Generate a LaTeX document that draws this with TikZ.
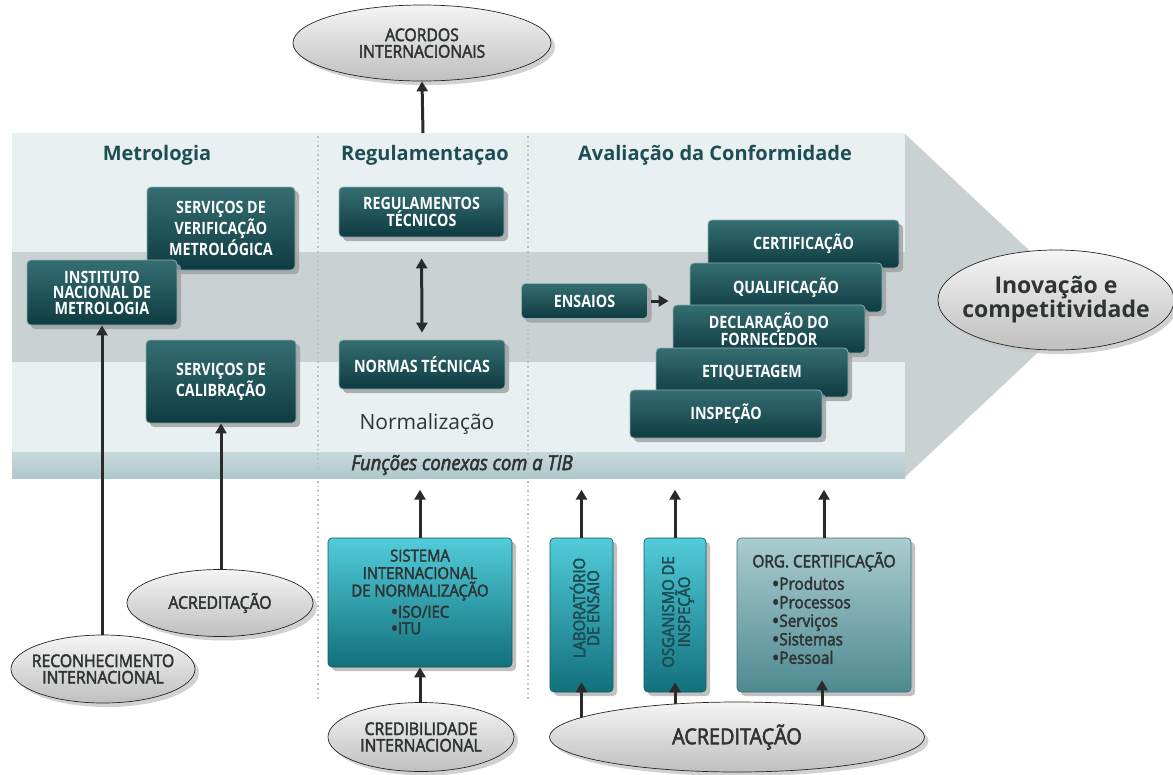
\documentclass[tikz,border=0pt]{standalone}
\usepackage{fontspec}
\setmainfont{Open Sans}
\newfontfamily\cf[FakeStretch=0.84]{Open Sans}
\newfontfamily\ef[FakeBold=2.5,FakeStretch=0.9]{Open Sans}
\usetikzlibrary{shadows,arrows.meta,shapes.geometric,calc}
\newcommand\bul{\smash{\raisebox{-0.1em}{\scalebox{1.3}{•}}}}
\definecolor{hdr}{HTML}{1E4D53}
\definecolor{bandL}{HTML}{E9F0F1}
\definecolor{bandM}{HTML}{C9D1D2}
\definecolor{bandB}{HTML}{AFC8CC}
\definecolor{boxT}{HTML}{356E72}
\definecolor{boxB}{HTML}{0E3B42}
\definecolor{cyT}{HTML}{52CCDA}
\definecolor{cyB}{HTML}{12707C}
\definecolor{orgT}{HTML}{AACCD0}
\definecolor{orgB}{HTML}{4E8A91}
\definecolor{txt}{HTML}{2F3333}
\definecolor{vtxt}{HTML}{1C4A52}
\definecolor{arrc}{HTML}{2A2A2A}
\tikzset{
  darkbox/.style={rectangle, rounded corners=4pt, draw=boxT!55!white, line width=0.8pt,
    top color=boxT, bottom color=boxB, text=white,
    font=\cf\bfseries\fontsize{17}{15.5}\selectfont, align=center, inner sep=1pt,
    drop shadow={shadow xshift=4pt, shadow yshift=-4pt, fill=gray!75, opacity=.8}},
  cybox/.style={rectangle, rounded corners=4pt, draw=cyB!80!black, line width=0.6pt,
    top color=cyT, bottom color=cyB,
    drop shadow={shadow xshift=4pt, shadow yshift=-4pt, fill=gray!60, opacity=.8}},
  orgbox/.style={rectangle, rounded corners=4pt, draw=orgB!80!black, line width=0.6pt,
    top color=orgT, bottom color=orgB,
    drop shadow={shadow xshift=4pt, shadow yshift=-4pt, fill=gray!60, opacity=.8}},
  ell/.style={ellipse, draw=gray!30!black, line width=0.7pt, top color=gray!8, bottom color=gray!50,
    text=txt, font=\ef\fontsize{17.5}{16.5}\selectfont, align=center,
    inner xsep=-30pt, inner ysep=-12pt,
    drop shadow={shadow xshift=4pt, shadow yshift=-4pt, fill=gray!45, opacity=.8}},
  hdrtext/.style={font=\bfseries\fontsize{20}{22}\selectfont, text=hdr},
  semi/.style={font=\ef\fontsize{16.5}{17.5}\selectfont, text=txt},
  arr/.style={draw=arrc, line width=3pt, -{Triangle[width=11pt,length=10pt]}},
  darr/.style={draw=arrc, line width=3pt, {Triangle[width=11pt,length=10pt]}-{Triangle[width=11pt,length=10pt]}},
  divider/.style={draw=gray!50, line width=1.6pt, dash pattern=on 1.6pt off 3pt},
}
\begin{document}
\begin{tikzpicture}[x=1pt,y=-1pt]
\useasboundingbox[fill=white] (0,0) rectangle (1173,774);
% big arrow band
\fill[bandM] (904,133) -- (1088,305.5) -- (904,478) -- cycle;
\fill[bandL] (12,133) rectangle (905,252);
\fill[bandM] (12,252) rectangle (905,362);
\fill[bandL] (12,362) rectangle (905,452);
\shade[top color=bandB!70!white, bottom color=bandB] (12,452) rectangle (905,478);
% dividers
\draw[divider] (318,136) -- (318,700);
\draw[divider] (528,136) -- (528,700);
% headers and texts
\node[hdrtext] (hM) at (157,155) {Metrologia};
\node[hdrtext] (hR) at (425,155) {Regulamentaçao};
\node[hdrtext] (hA) at (715,155) {Avaliação da Conformidade};
\node[font=\fontsize{21}{22}\selectfont, text=txt] (norm) at (427,424) {Normalização};
\node[font=\ef\itshape\fontsize{20.5}{22}\selectfont, text=txt] (func) at (462,465) {Funções conexas com a TIB};
% dark boxes
\node[darkbox, minimum width=148pt, minimum height=83pt] (svm) at (221,228.5) {SERVIÇOS DE\\VERIFICAÇÃO\\METROLÓGICA};
\node[darkbox, minimum width=150pt, minimum height=65pt] (inm) at (102,292.5) {INSTITUTO\\NACIONAL DE\\METROLOGIA};
\node[darkbox, minimum width=150pt, minimum height=83pt] (scal) at (221,381.5) {SERVIÇOS DE\\CALIBRAÇÃO};
\node[darkbox, minimum width=165pt, minimum height=50pt] (regt) at (421.5,212) {REGULAMENTOS\\TÉCNICOS};
\node[darkbox, minimum width=166pt, minimum height=49pt] (normt) at (422,364.5) {NORMAS TÉCNICAS};
\node[darkbox, minimum width=126pt, minimum height=35pt] (ensaios) at (584.5,301) {ENSAIOS};
\node[darkbox, minimum width=191pt, minimum height=48pt] (cert) at (803.5,244) {CERTIFICAÇÃO};
\node[darkbox, minimum width=192pt, minimum height=49pt] (qual) at (786,287.5) {QUALIFICAÇÃO};
\node[darkbox, minimum width=192pt, minimum height=48pt] (decl) at (769,329) {DECLARAÇÃO DO\\FORNECEDOR};
\node[darkbox, minimum width=192pt, minimum height=49pt] (etiq) at (752,372.5) {ETIQUETAGEM};
\node[darkbox, minimum width=192pt, minimum height=48pt] (insp) at (726,414) {INSPEÇÃO};
% lower boxes
\node[cybox, minimum width=184pt, minimum height=129pt] (sist) at (420,602.5) {};
\node[semi, align=center] (sistt) at ([yshift=8pt]sist.center)
  {SISTEMA\\INTERNACIONAL\\DE NORMALIZAÇÃO\\[4pt]\begin{tabular}{@{}l@{}}\bul ISO/IEC\\[-1pt]\bul ITU\end{tabular}};
\node[cybox, minimum width=63pt, minimum height=154pt] (lab) at (581.5,615) {};
\node[semi, rotate=90, font=\ef\fontsize{16.5}{14}\selectfont, text=vtxt, align=center] (labt) at ([xshift=3pt,yshift=7pt]lab.center) {LABORATÓRIO\\DE ENSAIO};
\node[cybox, minimum width=62pt, minimum height=154pt] (osg) at (675,615) {};
\node[semi, rotate=90, font=\ef\fontsize{16.5}{14}\selectfont, text=vtxt, align=center] (osgt) at ([xshift=3pt,yshift=3pt]osg.center) {OSGANISMO DE\\INSPEÇÃO};
\node[orgbox, minimum width=174pt, minimum height=154pt] (org) at (824,615) {};
\node[semi, font=\ef\fontsize{17}{18}\selectfont] (orgt) at ([yshift=-24pt]org.north) {ORG. CERTIFICAÇÃO};
\node[semi, font=\ef\fontsize{17}{18.5}\selectfont, align=left, anchor=north west, inner sep=0pt] (orgl) at ([xshift=35pt,yshift=-39pt]org.north west)
  {\bul Produtos\\\bul Processos\\\bul Serviços\\\bul Sistemas\\\bul Pessoal};
% named targets
\coordinate (bt) at (423,133);
\coordinate (tS) at ([yshift=48pt]sist.north);
\coordinate (tL) at ([yshift=48pt]lab.north);
\coordinate (tO) at ([yshift=48pt]osg.north);
\coordinate (tC) at ([yshift=48pt]org.north);
\coordinate (acordosC) at (422,43);
\coordinate (reconC) at (103,669);
\coordinate (acred1C) at (220,603);
\coordinate (credC) at (421,737);
\coordinate (acred2C) at (737,737);
% arrows
\draw[darr, shorten <=21pt, shorten >=7pt] (regt.south) -- (normt.north);
\draw[arr, shorten <=3pt, shorten >=21pt] (ensaios.east) -- (ensaios.east -| qual.west);
\draw[arr] (inm.south |- reconC) -- (inm.south);
\draw[arr] (scal.south |- acred1C) -- (scal.south);
\draw[arr] (sist.north) -- (tS);
\draw[arr] (lab.north) -- (tL);
\draw[arr] (osg.north) -- (tO);
\draw[arr] (org.north) -- (tC);
\draw[arr] (sist.south |- credC) -- (sist.south);
\draw[arr] (lab.south |- acred2C) -- ([yshift=10pt]lab.south);
\draw[arr] (osg.south |- acred2C) -- ([yshift=10pt]osg.south);
\draw[arr] ([xshift=-2pt]org.south |- acred2C) -- ([xshift=-2pt,yshift=12pt]org.south);
% ellipses
\node[ell, minimum width=258pt, minimum height=76pt, text depth=-3pt] (acordos) at (acordosC) {ACORDOS\\INTERNACIONAIS};
\draw[arr] (bt) -- (acordos.south);
\node[ell, minimum width=236pt, minimum height=100pt, font=\bfseries\fontsize{23}{21.5}\selectfont] (inov) at (1056,300) {Inovação e\\competitividade};
\node[ell, minimum width=186pt, minimum height=67pt] (acred1) at (acred1C) {ACREDITAÇÃO};
\node[ell, minimum width=184pt, minimum height=68pt] (recon) at (reconC) {RECONHECIMENTO\\INTERNACIONAL};
\node[ell, minimum width=186pt, minimum height=69pt] (cred) at (credC) {CREDIBILIDADE\\INTERNACIONAL};
\node[ell, minimum width=375pt, minimum height=70pt, font=\ef\fontsize{22}{20}\selectfont] (acred2) at (acred2C) {ACREDITAÇÃO};
\end{tikzpicture}
\end{document}
